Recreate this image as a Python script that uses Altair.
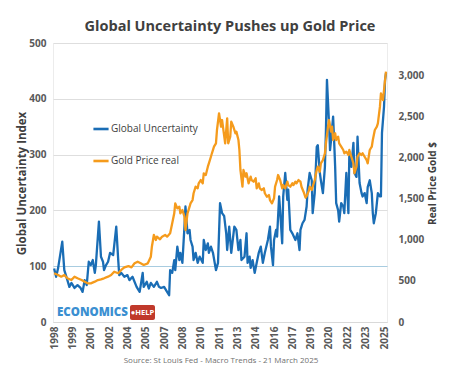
import altair as alt
import pandas as pd

# Global Uncertainty Index (left axis)
unc_months = [
    "1998-01", "1998-03", "1998-05", "1998-09", "1998-11", "1999-02", "1999-04", "1999-06",
    "1999-09", "1999-12", "2000-03", "2000-05", "2000-07", "2000-09", "2000-11", "2001-01",
    "2001-03", "2001-05", "2001-06", "2001-09", "2001-11", "2002-01", "2002-02", "2002-04",
    "2002-06", "2002-08", "2002-11", "2003-02", "2003-04", "2003-05", "2003-07", "2003-10",
    "2004-01", "2004-03", "2004-06", "2004-10", "2005-01", "2005-04", "2005-05", "2005-08",
    "2005-10", "2005-12", "2006-03", "2006-06", "2006-08", "2006-10", "2007-01", "2007-04",
    "2007-06", "2007-07", "2007-09", "2007-11", "2007-12", "2008-02", "2008-04", "2008-05",
    "2008-07", "2008-09", "2008-10", "2008-12", "2009-02", "2009-03", "2009-05", "2009-06",
    "2009-08", "2009-10", "2009-12", "2010-03", "2010-04", "2010-06", "2010-08", "2010-09",
    "2010-11", "2011-01", "2011-04", "2011-06", "2011-08", "2011-10", "2011-12", "2012-02",
    "2012-03", "2012-05", "2012-07", "2012-10", "2012-12", "2013-02", "2013-04", "2013-05",
    "2013-08", "2013-10", "2013-11", "2014-01", "2014-02", "2014-04", "2014-06", "2014-08",
    "2014-10", "2014-12", "2015-02", "2015-04", "2015-07", "2015-09", "2015-10", "2015-12",
    "2016-01", "2016-03", "2016-04", "2016-06", "2016-07", "2016-09", "2016-10", "2016-12",
    "2017-02", "2017-03", "2017-05", "2017-07", "2017-10", "2017-12", "2018-02", "2018-03",
    "2018-05", "2018-07", "2018-09", "2018-10", "2018-12", "2019-02", "2019-03", "2019-05",
    "2019-07", "2019-08", "2019-10", "2019-11", "2020-01", "2020-03", "2020-04", "2020-05",
    "2020-07", "2020-08", "2020-09", "2020-11", "2020-12", "2021-01", "2021-02", "2021-04",
    "2021-05", "2021-07", "2021-09", "2021-10", "2021-12", "2022-02", "2022-03", "2022-05",
    "2022-07", "2022-08", "2022-10", "2022-11", "2023-01", "2023-03", "2023-04", "2023-06",
    "2023-08", "2023-09", "2023-11", "2024-01", "2024-02", "2024-03", "2024-05", "2024-06",
    "2024-07", "2024-09", "2024-10", "2024-11", "2025-01", "2025-02", "2025-03",
]
unc_values = [
    96, 81, 97, 144, 93, 75, 63, 70,
    61, 66, 61, 54, 75, 66, 108, 102,
    111, 88, 102, 180, 117, 108, 93, 102,
    108, 124, 120, 171, 111, 84, 88, 81,
    84, 75, 81, 63, 54, 88, 63, 72,
    60, 70, 63, 72, 63, 61, 63, 54,
    48, 93, 88, 111, 93, 135, 111, 124,
    106, 171, 207, 159, 165, 147, 135, 111,
    124, 106, 117, 106, 147, 129, 141, 124,
    135, 124, 93, 106, 213, 195, 190, 159,
    129, 171, 124, 171, 165, 129, 147, 111,
    117, 159, 106, 117, 97, 111, 88, 106,
    124, 135, 106, 124, 147, 171, 135, 102,
    147, 165, 153, 225, 200, 141, 225, 267,
    219, 237, 165, 159, 147, 159, 129, 165,
    177, 183, 207, 237, 267, 254, 195, 231,
    314, 317, 267, 254, 231, 278, 344, 434,
    357, 308, 326, 368, 326, 278, 213, 200,
    180, 213, 207, 195, 267, 195, 303, 278,
    321, 267, 260, 332, 249, 231, 225, 231,
    213, 242, 254, 231, 195, 177, 195, 213,
    231, 225, 225, 339, 386, 434, 446,
]

# Real gold price in dollars (right axis)
gold_months = [
    "1998-01", "1998-05", "1998-08", "1998-11", "1999-02", "1999-06", "1999-09", "1999-12",
    "2000-04", "2000-07", "2000-10", "2001-01", "2001-05", "2001-08", "2001-11", "2002-02",
    "2002-06", "2002-09", "2002-12", "2003-04", "2003-07", "2003-10", "2004-02", "2004-05",
    "2004-08", "2004-11", "2005-02", "2005-05", "2005-09", "2005-12", "2006-01", "2006-03",
    "2006-05", "2006-06", "2006-09", "2006-11", "2007-02", "2007-04", "2007-07", "2007-09",
    "2007-11", "2007-12", "2008-02", "2008-04", "2008-05", "2008-07", "2008-09", "2008-10",
    "2008-12", "2009-02", "2009-03", "2009-05", "2009-06", "2009-08", "2009-10", "2009-11",
    "2010-01", "2010-03", "2010-04", "2010-06", "2010-08", "2010-09", "2010-11", "2010-12",
    "2011-02", "2011-04", "2011-05", "2011-07", "2011-09", "2011-10", "2012-01", "2012-03",
    "2012-04", "2012-06", "2012-07", "2012-09", "2012-11", "2012-12", "2013-02", "2013-03",
    "2013-04", "2013-06", "2013-07", "2013-09", "2013-10", "2013-12", "2014-02", "2014-03",
    "2014-05", "2014-07", "2014-08", "2014-10", "2014-11", "2015-01", "2015-03", "2015-04",
    "2015-06", "2015-08", "2015-09", "2015-11", "2016-01", "2016-02", "2016-04", "2016-05",
    "2016-07", "2016-09", "2016-10", "2016-12", "2017-02", "2017-03", "2017-05", "2017-07",
    "2017-08", "2017-10", "2017-11", "2018-01", "2018-03", "2018-04", "2018-06", "2018-08",
    "2018-09", "2018-11", "2018-12", "2019-02", "2019-03", "2019-05", "2019-07", "2019-08",
    "2019-10", "2019-11", "2020-01", "2020-03", "2020-04", "2020-06", "2020-07", "2020-09",
    "2020-10", "2020-11", "2021-01", "2021-02", "2021-04", "2021-05", "2021-07", "2021-09",
    "2021-10", "2021-12", "2022-02", "2022-03", "2022-05", "2022-07", "2022-08", "2022-10",
    "2022-11", "2023-01", "2023-03", "2023-04", "2023-06", "2023-08", "2023-09", "2023-11",
    "2024-01", "2024-02", "2024-04", "2024-06", "2024-07", "2024-09", "2024-10", "2024-12",
    "2025-02", "2025-03",
]
gold_values = [
    592, 571, 551, 571, 531, 510, 551, 531,
    510, 490, 470, 470, 490, 510, 518, 531,
    551, 571, 611, 592, 632, 664, 680, 664,
    713, 733, 713, 693, 713, 794, 915, 1057,
    996, 1037, 1005, 1037, 1057, 1037, 1078, 1199,
    1321, 1442, 1381, 1401, 1321, 1361, 1280, 1118,
    1321, 1401, 1442, 1482, 1564, 1644, 1624, 1685,
    1725, 1685, 1807, 1786, 1887, 1928, 2008, 2050,
    2130, 2171, 2333, 2536, 2373, 2454, 2171, 2475,
    2171, 2252, 2434, 2373, 2293, 2313, 2211, 2090,
    1850, 1644, 1847, 1766, 1807, 1685, 1766, 1725,
    1705, 1746, 1624, 1685, 1624, 1604, 1624, 1564,
    1522, 1543, 1482, 1442, 1503, 1644, 1725, 1786,
    1725, 1624, 1664, 1624, 1705, 1664, 1644, 1685,
    1664, 1705, 1685, 1725, 1705, 1644, 1583, 1510,
    1530, 1590, 1644, 1604, 1644, 1725, 1847, 1887,
    1826, 1928, 1968, 2050, 2171, 2373, 2454, 2313,
    2373, 2211, 2293, 2211, 2252, 2171, 2130, 2090,
    2050, 2070, 2029, 2090, 2008, 1928, 1807, 1887,
    2008, 2050, 2029, 2050, 2008, 1968, 1928, 2090,
    2130, 2211, 2333, 2373, 2414, 2616, 2778, 2697,
    2940, 3041,
]

# Year labels every 18 months along the bottom axis
tick_months = [
    "1998-01", "1999-07", "2001-01", "2002-07", "2004-01", "2005-07", "2007-01",
    "2008-07", "2010-01", "2011-07", "2013-01", "2014-07", "2016-01", "2017-07",
    "2019-01", "2020-07", "2022-01", "2023-07", "2025-01",
]

series_names = ["Global Uncertainty", "Gold Price real"]
series_colors = ["#1a6db5", "#f59b1c"]

unc_df = pd.DataFrame({
    "date": [m + "-01" for m in unc_months],
    "value": unc_values,
    "series": series_names[0],
})
gold_df = pd.DataFrame({
    "date": [m + "-01" for m in gold_months],
    "value": gold_values,
    "series": series_names[1],
})

TEXT = "#404040"
LABEL = "#595959"
FONT = "Open Sans"


def ymd(s):
    y, m = s.split("-")
    return alt.DateTime(year=int(y), month=int(m), date=1, utc=True)


x_enc = alt.X(
    "date:T",
    scale=alt.Scale(domain=[alt.DateTime(year=1997, month=11, date=28, utc=True),
                            alt.DateTime(year=2025, month=3, date=31, utc=True)]),
    axis=alt.Axis(
        values=[ymd(t) for t in tick_months],
        labelExpr="utcFormat(datum.value, '%Y')",
        labelAngle=-90,
        labelFont=FONT,
        labelFontSize=10,
        labelFontWeight="bold",
        labelColor=LABEL,
        labelPadding=4,
        ticks=False,
        grid=False,
        domainColor="#d9d9d9",
        title=None,
    ),
)

color_enc = alt.Color(
    "series:N",
    scale=alt.Scale(domain=series_names, range=series_colors),
    legend=alt.Legend(
        orient="none",
        legendX=39,
        legendY=77,
        title=None,
        symbolType="stroke",
        symbolSize=230,
        symbolStrokeWidth=2.6,
        labelFont=FONT,
        labelFontSize=10,
        labelColor=TEXT,
        labelOffset=1,
        rowPadding=17,
    ),
)

unc_line = alt.Chart(unc_df).mark_line(strokeWidth=2.3, strokeJoin="round").encode(
    x=x_enc,
    y=alt.Y(
        "value:Q",
        scale=alt.Scale(domain=[0, 500]),
        axis=alt.Axis(
            orient="left",
            values=[0, 100, 200, 300, 400, 500],
            grid=True,
            gridColor=alt.condition("datum.value === 100", alt.value("#a8cce0"), alt.value("#dedede")),
            domain=False,
            ticks=False,
            labelFont=FONT,
            labelFontSize=10,
            labelFontWeight="bold",
            labelColor=LABEL,
            labelPadding=7,
            title="Global Uncertainty Index",
            titleFont=FONT,
            titleFontSize=11.5,
            titleFontWeight="bold",
            titleColor=TEXT,
            titleX=-31,
            titleY=140,
            titleAngle=-90,
            titleAlign="center",
            titleBaseline="middle",
        ),
    ),
    color=color_enc,
)

gold_line = alt.Chart(gold_df).mark_line(strokeWidth=2.3, strokeJoin="round").encode(
    x=x_enc,
    y=alt.Y(
        "value:Q",
        scale=alt.Scale(domain=[0, 3390]),
        axis=alt.Axis(
            orient="right",
            values=[0, 500, 1000, 1500, 2000, 2500, 3000],
            format=",d",
            grid=False,
            domain=False,
            ticks=False,
            labelFont=FONT,
            labelFontSize=10,
            labelFontWeight="bold",
            labelColor=LABEL,
            labelPadding=11,
            title="Real Price Gold $",
            titleFont=FONT,
            titleFontSize=10,
            titleFontWeight="bold",
            titleColor=TEXT,
            titleX=45,
            titleY=140,
            titleAngle=-90,
            titleAlign="center",
            titleBaseline="middle",
        ),
    ),
    color=color_enc,
)

# Source line and logo beneath the plot
source = alt.Chart(pd.DataFrame({"t": ["Source: St Louis Fed - Macro Trends - 21 March 2025"]})).mark_text(
    font=FONT, fontSize=8, color="#707070", align="center", baseline="middle"
).encode(text="t:N", x=alt.value(168), y=alt.value(318))

logo_word = alt.Chart(pd.DataFrame({"t": ["ECONOMICS"]})).mark_text(
    font=FONT, fontSize=11.5, fontWeight=800, color="#3b8fd1", align="left", baseline="middle"
).encode(text="t:N", x=alt.value(4), y=alt.value(270))

logo_tag = alt.Chart(pd.DataFrame({"t": ["tag"]})).mark_rect(
    color="#c0392b", cornerRadius=2
).encode(x=alt.value(77), x2=alt.value(102), y=alt.value(262), y2=alt.value(277))

logo_help = alt.Chart(pd.DataFrame({"t": ["●HELP"]})).mark_text(
    font=FONT, fontSize=7.5, fontWeight="bold", color="white", align="center", baseline="middle"
).encode(text="t:N", x=alt.value(89.5), y=alt.value(269.5))

chart = alt.layer(
    logo_tag, logo_help, logo_word, source, unc_line, gold_line
).resolve_scale(
    y="independent"
).properties(
    width=334,
    height=279,
    padding={"left": 53, "top": 43, "right": 87, "bottom": 65},
    autosize=alt.AutoSizeParams(type="none"),
    background="white",
    title=alt.Title(
        "Global Uncertainty Pushes up Gold Price",
        font=FONT,
        fontSize=14.5,
        fontWeight="bold",
        color=TEXT,
        anchor="middle",
        dx=10,
        offset=4,
    ),
).configure_view(
    stroke="#ececec"
)

chart.save("out.html", embed_options={"renderer": "svg", "actions": False})
